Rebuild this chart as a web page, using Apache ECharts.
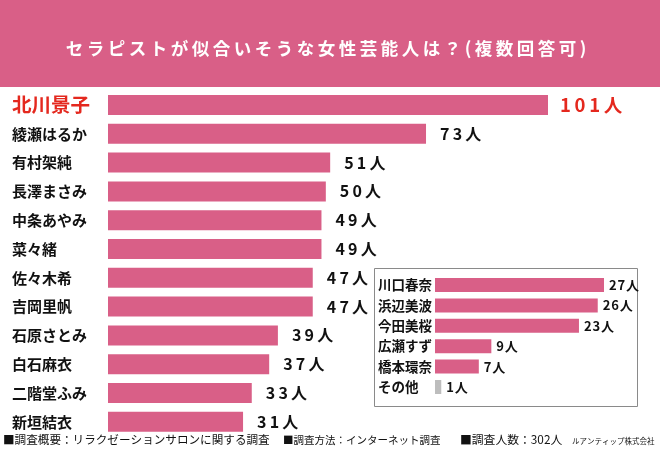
<!DOCTYPE html>
<html><head><meta charset="utf-8">
<script src="https://cdn.jsdelivr.net/npm/echarts@6/dist/echarts.min.js"></script>
<style>html,body{margin:0;padding:0;background:#fff}#c{width:660px;height:450px}</style>
</head><body><div id="c"></div>
<script>
const titleText = 'セラピストが似合いそうな女性芸能人は？(複数回答可)';
const mainNames = ['北川景子','綾瀬はるか','有村架純','長澤まさみ','中条あやみ','菜々緒','佐々木希','吉岡里帆','石原さとみ','白石麻衣','二階堂ふみ','新垣結衣'];
const mainValues = [101,73,51,50,49,49,47,47,39,37,33,31];
const subNames = ['川口春奈','浜辺美波','今田美桜','広瀬すず','橋本環奈','その他'];
const subValues = [27,26,23,9,7,1];
const footerParts = ['■調査概要：リラクゼーションサロンに関する調査','■調査方法：インターネット調査','■調査人数：302人'];
const companyName = 'ルアンティップ株式会社';

const PINK = '#D95F87', RED = '#E4281E', FONT = '"Noto Sans CJK JP","Noto Sans",sans-serif';
const spaced = s => String(s).split('').join('\u200A');
const spacedT = s => String(s).split('').join('\u2009');
const chart = echarts.init(document.getElementById('c'));
chart.setOption({
  animation: false,
  backgroundColor: '#fff',
  graphic: [
    {type:'rect', shape:{x:0,y:0,width:660,height:87}, style:{fill:PINK}, z:0},
    {type:'text', x:326, y:48, style:{text:spacedT(titleText), fill:'#fff', font:'bold 17.5px '+FONT, textAlign:'center', textVerticalAlign:'middle'}, z:1},
    {type:'rect', shape:{x:374.5,y:268.5,width:263,height:138}, style:{fill:'#fff', stroke:'#8a8a8a', lineWidth:1}, z:0},
    {type:'text', x:3, y:440, style:{text:footerParts[0], fill:'#111', font:'11.6px '+FONT, textVerticalAlign:'middle'}, z:1},
    {type:'text', x:283, y:440, style:{text:footerParts[1], fill:'#111', font:'10.5px '+FONT, textVerticalAlign:'middle'}, z:1},
    {type:'text', x:460, y:440, style:{text:footerParts[2], fill:'#111', font:'11.8px '+FONT, textVerticalAlign:'middle'}, z:1},
    {type:'text', x:572, y:441, style:{text:companyName, fill:'#111', font:'7.5px '+FONT, textVerticalAlign:'middle'}, z:1}
  ],
  grid: [
    {left:108, top:90.6, width:440, height:345.6},
    {left:435, top:274.8, width:169, height:122.4}
  ],
  xAxis: [
    {gridIndex:0, type:'value', min:0, max:101, show:false},
    {gridIndex:1, type:'value', min:0, max:27, show:false}
  ],
  yAxis: [
    {gridIndex:0, type:'category', data:mainNames, inverse:true, z:5,
     axisLine:{show:false}, axisTick:{show:false}, splitLine:{show:false},
     axisLabel:{align:'left', margin:96, fontFamily:FONT, fontWeight:'bold', fontSize:15, color:'#111',
       formatter:(v,i)=> i===0 ? '{r|'+v+'}' : v,
       rich:{r:{fontFamily:FONT, fontWeight:'bold', fontSize:19.5, color:RED}}}},
    {gridIndex:1, type:'category', data:subNames, inverse:true, z:5,
     axisLine:{show:false}, axisTick:{show:false}, splitLine:{show:false},
     axisLabel:{align:'left', margin:57, fontFamily:FONT, fontWeight:'bold', fontSize:13.5, color:'#111'}}
  ],
  series: [
    {type:'bar', xAxisIndex:0, yAxisIndex:0, barWidth:20, z:2,
     data: mainValues.map((v,i)=>({value:v,
        label: i===0 ? {color:RED, fontSize:18.5, distance:12} : {}})),
     itemStyle:{color:PINK},
     label:{show:true, position:'right', distance:14, formatter:p=>spacedT(p.value+'人'), fontFamily:FONT, fontWeight:'bold', fontSize:16, color:'#111'}},
    {type:'bar', xAxisIndex:1, yAxisIndex:1, barWidth:14, z:3,
     data: subValues.map((v,i)=>({value:v,
        itemStyle: i===subValues.length-1 ? {color:'#BDBDBD'} : {}})),
     itemStyle:{color:PINK},
     label:{show:true, position:'right', distance:5, formatter:p=>spaced(p.value+'人'), fontFamily:FONT, fontWeight:'bold', fontSize:13, color:'#111'}}
  ]
});
</script></body></html>
